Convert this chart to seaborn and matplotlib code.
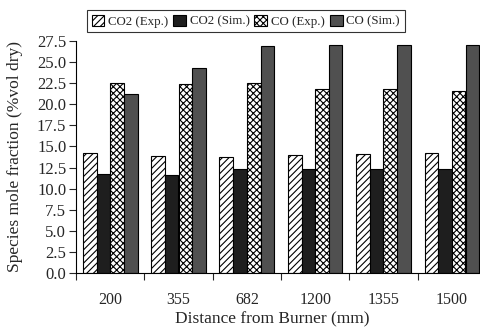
import matplotlib
matplotlib.use("Agg")
import matplotlib.pyplot as plt
import seaborn as sns
import pandas as pd
from matplotlib.patches import Patch

distances = ["200", "355", "682", "1200", "1355", "1500"]
series = ["CO2 (Exp.)", "CO2 (Sim.)", "CO (Exp.)", "CO (Sim.)"]
co2_exp = [14.2, 13.9, 13.7, 14.0, 14.1, 14.2]
co2_sim = [11.7, 11.6, 12.3, 12.3, 12.3, 12.3]
co_exp = [22.5, 22.4, 22.5, 21.8, 21.8, 21.6]
co_sim = [21.2, 24.3, 26.9, 27.0, 27.0, 27.0]
yticks = [0.0, 2.5, 5.0, 7.5, 10.0, 12.5, 15.0, 17.5, 20.0, 22.5, 25.0, 27.5]

rows = []
for name, vals in zip(series, [co2_exp, co2_sim, co_exp, co_sim]):
    for d, v in zip(distances, vals):
        rows.append({"Distance": d, "Series": name, "Value": v})
df = pd.DataFrame(rows)

sns.set_style("ticks")
plt.rcParams["font.family"] = ["Liberation Serif", "DejaVu Serif"]
plt.rcParams["hatch.linewidth"] = 0.8

faces = ["white", "#1e1e1e", "white", "#505050"]
hatches = ["/////", "", "xxxxx", ""]

fig = plt.figure(figsize=(4.81, 3.27), dpi=100)
ax = fig.add_axes([76 / 481, (327 - 273) / 327, (486 - 76) / 481, 232 / 327])

sns.barplot(data=df, x="Distance", y="Value", hue="Series", order=distances,
            hue_order=series, ax=ax, width=0.8, legend=False,
            palette=faces, saturation=1)

for cont, fc, h in zip(ax.containers, faces, hatches):
    for p in cont.patches:
        p.set_facecolor(fc)
        p.set_edgecolor("black")
        p.set_linewidth(0.8)
        p.set_hatch(h)

ax.set_ylim(0, 27.5)
ax.set_yticks(yticks)
ax.set_yticklabels([f"{t:.1f}" for t in yticks], fontsize=12)
ax.set_xlim(-0.5, len(distances) - 0.5)
ax.set_xticks(range(len(distances)))
ax.set_xticklabels(distances, fontsize=11.5)
ax.tick_params(axis="x", which="major", length=0, pad=14)
ax.set_xticks([i - 0.5 for i in range(len(distances) + 1)], minor=True)
ax.tick_params(axis="x", which="minor", length=5, width=0.8, direction="out")
ax.tick_params(axis="y", length=5, width=0.8, direction="out", pad=2)
sns.despine(ax=ax, top=True, right=True)
for s in ["left", "bottom"]:
    ax.spines[s].set_linewidth(0.8)
    ax.spines[s].set_color("black")

ax.set_xlabel("Distance from Burner (mm)", fontsize=12.5, labelpad=1)
ax.xaxis.set_label_coords((272 - 76) / 410, -0.165)
ax.set_ylabel("Species mole fraction (%vol dry)", fontsize=12.5)
ax.yaxis.set_label_coords(-(76 - 23) / 410, 0.5)

handles = [Patch(facecolor=fc, edgecolor="black", hatch=h, linewidth=0.8)
           for fc, h in zip(faces, hatches)]
leg = fig.legend(handles, series, loc="upper left",
                 bbox_to_anchor=(87 / 481, 1 - 10 / 327), ncol=4, fontsize=9.3,
                 frameon=True, fancybox=False, edgecolor="black",
                 handlelength=1.0, handleheight=1.0, handletextpad=0.3,
                 columnspacing=0.35, borderpad=0.35, borderaxespad=0)
leg.get_frame().set_linewidth(0.8)

fig.savefig("out.png", dpi=100)
